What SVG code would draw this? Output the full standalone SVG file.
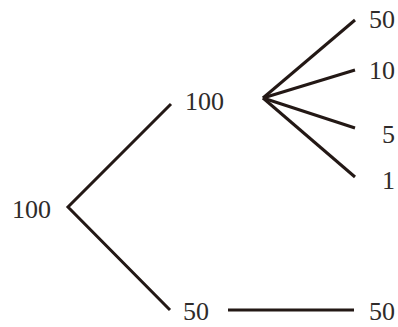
<svg xmlns="http://www.w3.org/2000/svg" width="398" height="327" viewBox="0 0 398 327">
<style>
text { font-family: "Liberation Serif", "DejaVu Serif", serif; font-size: 26px; fill: #2f2b2a; }
.r { text-anchor: end; }
.c { stroke: #231815; stroke-width: 3; fill: none; stroke-linecap: butt; stroke-linejoin: miter; }
</style>
<rect width="398" height="327" fill="#ffffff"/>
<g id="connectors">
<polyline class="c" points="171,104 68,207 170,310"/>
<line class="c" x1="263" y1="98" x2="355" y2="20"/>
<line class="c" x1="263" y1="98" x2="355" y2="70"/>
<line class="c" x1="263" y1="98" x2="355" y2="128"/>
<line class="c" x1="263" y1="98" x2="355" y2="177"/>
<line class="c" x1="228" y1="310" x2="354" y2="310"/>
</g>
<g id="n-root"><text x="12" y="218">100</text></g>
<g id="n-mid-top"><text x="185" y="110">100</text></g>
<g id="n-mid-bottom"><text x="183" y="320">50</text></g>
<g id="n-50a"><text class="r" x="395" y="28">50</text></g>
<g id="n-10"><text class="r" x="395" y="79">10</text></g>
<g id="n-5"><text class="r" x="395" y="143">5</text></g>
<g id="n-1"><text class="r" x="395" y="189">1</text></g>
<g id="n-50b"><text class="r" x="395" y="320">50</text></g>
</svg>
